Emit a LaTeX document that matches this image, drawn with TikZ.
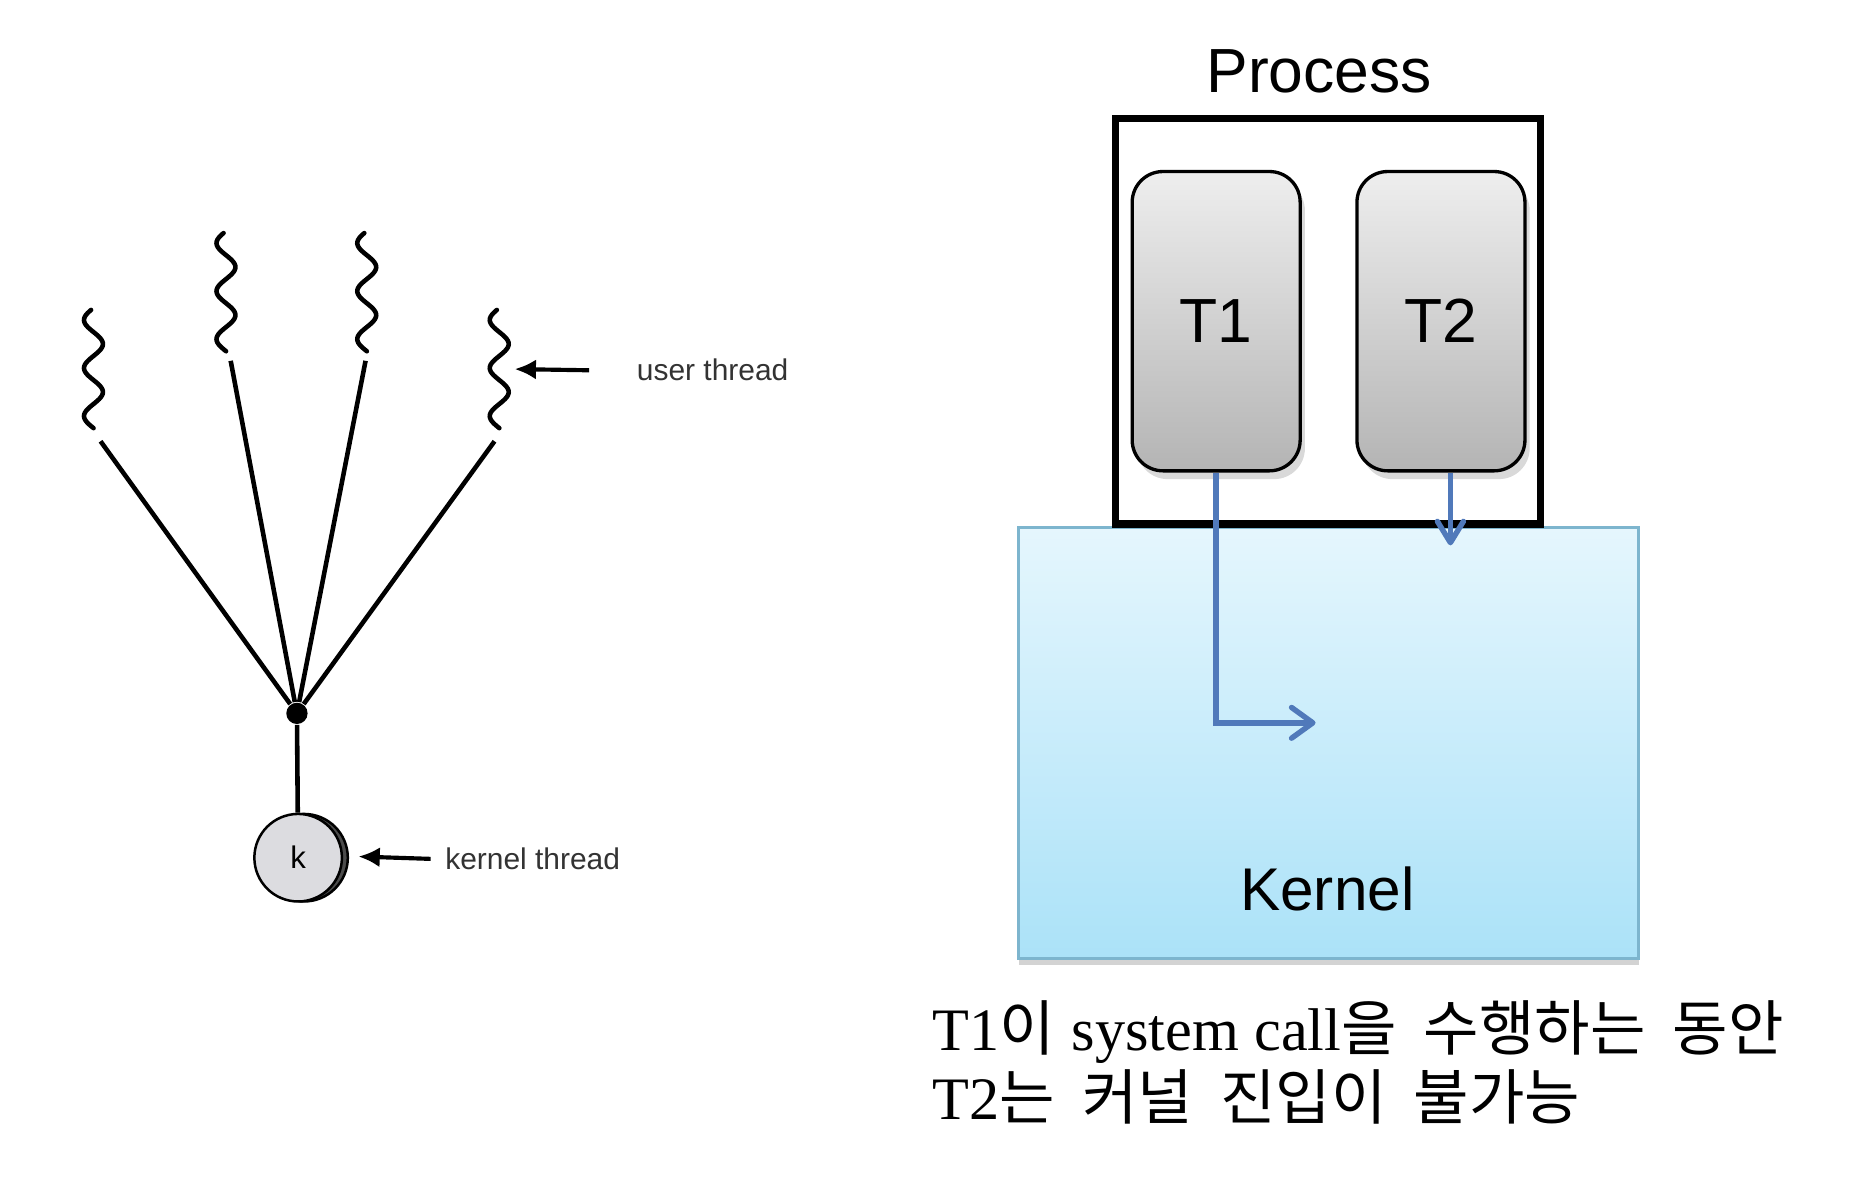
\documentclass[tikz,border=0pt]{standalone}
\usepackage{fontspec}
\setmainfont{Liberation Sans}
\newfontfamily\tmsfont{Liberation Serif}
\newfontfamily\krfont[WordSpace=2]{Noto Sans CJK KR}
\usetikzlibrary{shapes,arrows.meta,shadows}
\definecolor{thrtop}{HTML}{EEEEEE}
\definecolor{thrbot}{HTML}{B4B4B4}
\definecolor{kertop}{HTML}{E5F6FD}
\definecolor{kerbot}{HTML}{ABE2F8}
\definecolor{kerline}{HTML}{7DB5CE}
\definecolor{callblue}{HTML}{5079BA}
\definecolor{lbl}{HTML}{333333}
\definecolor{kfill}{HTML}{DCDCE0}
\tikzset{
  wave/.style={draw=black,line width=1.1pt,line cap=round},
  link/.style={draw=black,line width=1.1pt},
  tag/.style={anchor=west,text=lbl,font=\fontsize{7.2}{8}\selectfont},
  tagarrow/.style={-{Latex[length=1.8mm,width=1.7mm]},draw=black,line width=1pt},
  thrbox/.style={shape=rectangle,draw=black,rounded corners=2.6mm,line width=0.8pt,top color=thrtop,bottom color=thrbot,minimum width=14.2mm,minimum height=25.3mm,align=center,font=\fontsize{15}{18}\selectfont,drop shadow={shadow xshift=0.4mm,shadow yshift=-0.7mm,opacity=0.3}},
  sysarrow/.style={draw=callblue,line width=1.3pt,-{Straight Barb[length=1.8mm,width=2.6mm,round]}},
  note/.style={anchor=base west,font=\fontsize{14.5}{17}\selectfont}
}
\begin{document}
\begin{tikzpicture}
\useasboundingbox (0,0) rectangle (15.68,-9.97);
\foreach \wx/\wy in {0.79/-2.62,1.91/-1.97,3.10/-1.97,4.22/-2.62}
  \draw[wave] plot[domain=0:1,samples=70,smooth] ({\wx-0.08*cos(360*(\x-0.085)/0.406)},{\wy-\x});
\coordinate (l1) at (0.85,-3.73);
\coordinate (l2) at (1.95,-3.05);
\coordinate (l3) at (3.09,-3.05);
\coordinate (l4) at (4.18,-3.73);
\node[shape=circle,fill=black,inner sep=0,minimum size=1.8mm] (j) at (2.51,-6.03) {};
\fill[draw=black,fill=gray!60!black,line width=0.6pt] (2.57,-7.25) circle (3.7mm);
\node[shape=circle,draw=black,fill=kfill,line width=0.6pt,inner sep=0,minimum size=7.4mm,font=\fontsize{7.5}{8}\selectfont] (k) at (2.52,-7.25) {k};
\node[tag] (ut) at (5.26,-3.13) {user thread};
\node[tag] (kt) at (3.64,-7.26) {kernel thread};
\coordinate (uw) at (4.35,-3.12);
\coordinate (kw) at (3.03,-7.24);

\path [link] (l1) edge (j);
\path [link] (l2) edge (j);
\path [link] (l3) edge (j);
\path [link] (l4) edge (j);
\path [link] (j) edge (k);
\draw [tagarrow] ([xshift=-2.8mm]ut.west) -- (uw);
\draw [tagarrow] (kt.west) -- (kw);

\node[shape=rectangle,draw=kerline,line width=0.6pt,top color=kertop,bottom color=kerbot,minimum width=52.4mm,minimum height=36.4mm,inner sep=0,drop shadow={shadow xshift=0mm,shadow yshift=-0.6mm,opacity=0.35}] (kern) at (11.23,-6.28) {};
\node[font=\fontsize{14.5}{17}\selectfont] (kl) at (11.22,-7.51) {Kernel};
\node[shape=rectangle,draw=black,line width=1.8pt,minimum width=35.9mm,minimum height=34.3mm,inner sep=0] (proc) at (11.225,-2.715) {};
\node[font=\fontsize{15}{18}\selectfont] (pl) at (11.15,-0.60) {Process};
\node[thrbox] (t1) at (10.28,-2.715) {T1};
\node[thrbox] (t2) at (12.18,-2.715) {T2};
\coordinate (sc) at (11.12,-6.11);
\coordinate (ent) at (12.26,-4.61);

\draw [sysarrow] (t1.south) |- (sc);
\draw [sysarrow,-{Straight Barb[length=1.8mm,width=2.2mm,round]}] (t2.south -| ent) -- (ent);

\node[note] (n1) at (7.76,-8.88) {{\tmsfont T1}{\krfont 이} {\tmsfont system call}{\krfont 을 수행하는 동안}};
\node[note] (n2) at (7.76,-9.46) {{\tmsfont T2}{\krfont 는 커널 진입이 불가능}};
\end{tikzpicture}
\end{document}
